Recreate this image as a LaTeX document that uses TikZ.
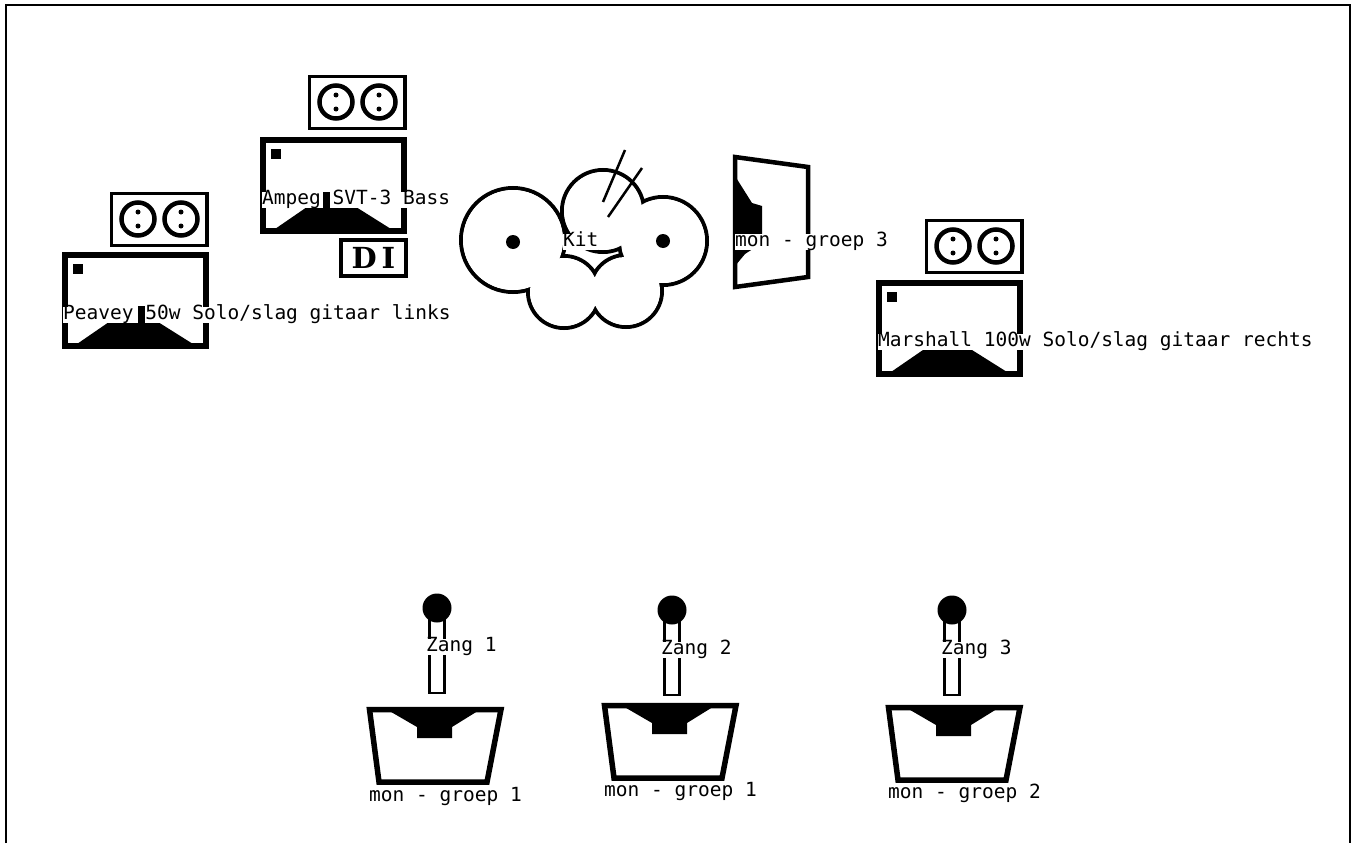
\documentclass[tikz,border=0pt]{standalone}
\usepackage{fontspec}
\setmonofont{DejaVu Sans Mono}
\newfontfamily\difont{DejaVu Serif}
\usepackage{tikz}
\newcommand{\ampcab}[2]{%
  \begin{scope}[shift={(#1,#2)}]
    \draw[heavy] (3,3) rectangle (144,94);
    \fill (11,12) rectangle (21,22);
    \fill (15,92) -- (47,70) -- (96,70) -- (131,92) -- cycle;
  \end{scope}}
\newcommand{\outlet}[2]{%
  \begin{scope}[shift={(#1,#2)}]
    \draw[thin box] (1.5,1.5) rectangle (97,53.5);
    \draw[socket] (28,27) circle (16.5);
    \draw[socket] (71,27) circle (16.5);
    \fill (28,20) circle (2.5) (28,34) circle (2.5) (71,20) circle (2.5) (71,34) circle (2.5);
  \end{scope}}
\newcommand{\floorwedge}[2]{%
  \begin{scope}[shift={(#1,#2)}]
    \draw[heavy, line join=miter] (3.5,3.5) -- (135,3.5) -- (121,76) -- (13,76) -- cycle;
    \fill (20,3) -- (51,21) -- (51,32) -- (86,32) -- (86,21) -- (115,3) -- cycle;
  \end{scope}}
\newcommand{\vocalmic}[2]{%
  \draw[thin box, line width=2.5pt] (#1-7.5,#2+4) rectangle (#1+7.5,#2+85);
  \fill (#1,#2) circle (14.5);}
\begin{document}
\begin{tikzpicture}[
  x=1pt, y=-1pt,
  heavy/.style={line width=5.5pt},
  thin box/.style={line width=3.5pt},
  socket/.style={line width=4.5pt},
  lbl/.style={font=\fontsize{19.5}{20}\ttfamily, anchor=west, fill=white, inner xsep=0pt,
              inner ysep=0pt, text height=12pt, text depth=3.5pt},
  cloud/.style={line width=4pt, draw=black},
  stick/.style={line width=2.5pt},
]
\useasboundingbox (0,0) rectangle (1354,843);
\draw[line width=2.5pt] (6,843) -- (6,5) -- (1350,5) -- (1350,843);

\outlet{110}{192}
\ampcab{62}{252}
\node[lbl] (peavey) at (63,315) {Peavey 50w Solo/slag gitaar links};
\fill (138,306) rectangle (145,325);

\outlet{308}{75}
\ampcab{260}{137}
\node[lbl] (ampeg) at (262,200) {Ampeg SVT-3 Bass};
\fill (323,192) rectangle (330,209);
\node[draw, thin box, minimum width=65pt, minimum height=36pt, inner sep=0pt,
      font=\difont\bfseries\fontsize{29}{29}\selectfont] (di) at (373.5,258) {D\,I};

% cloud: outlines first, then the insides on top
\draw[cloud] (513,240) circle (52) (663,241) circle (44) (603,211) circle (41)
  (564,292) circle (36) (626,291) circle (36);
\fill[white] (513,240) circle (50) (663,241) circle (42) (603,211) circle (39)
  (564,292) circle (34) (626,291) circle (34);
\fill (513,242) circle (7) (663,241) circle (7);
\draw[stick] (625,150) -- (603,202);
\draw[stick] (642,168) -- (608,217);
\node[lbl] (kit) at (563,242) {Kit};

\draw[heavy, line width=4.5pt] (735,157) -- (808,167) -- (808,277) -- (735,287) -- cycle;
\fill (735,176) -- (752,203) -- (762,206) -- (762,243) -- (745,254) -- (735,266) -- cycle;
\node[lbl] (mongroep3) at (735,242) {mon - groep 3};

\outlet{925}{219}
\ampcab{876}{280}
\node[lbl] (marshall) at (878,342) {Marshall 100w Solo/slag gitaar rechts};

\vocalmic{437}{608}
\node[lbl] (zang1) at (426,647) {Zang 1};
\floorwedge{366}{706}
\node[lbl] (mongroep1a) at (369,797) {mon - groep 1};

\vocalmic{672}{610}
\node[lbl] (zang2) at (661,650) {Zang 2};
\floorwedge{601}{702}
\node[lbl] (mongroep1b) at (604,792) {mon - groep 1};

\vocalmic{952}{610}
\node[lbl] (zang3) at (941,650) {Zang 3};
\floorwedge{885}{704}
\node[lbl] (mongroep2) at (888,794) {mon - groep 2};
\end{tikzpicture}
\end{document}
